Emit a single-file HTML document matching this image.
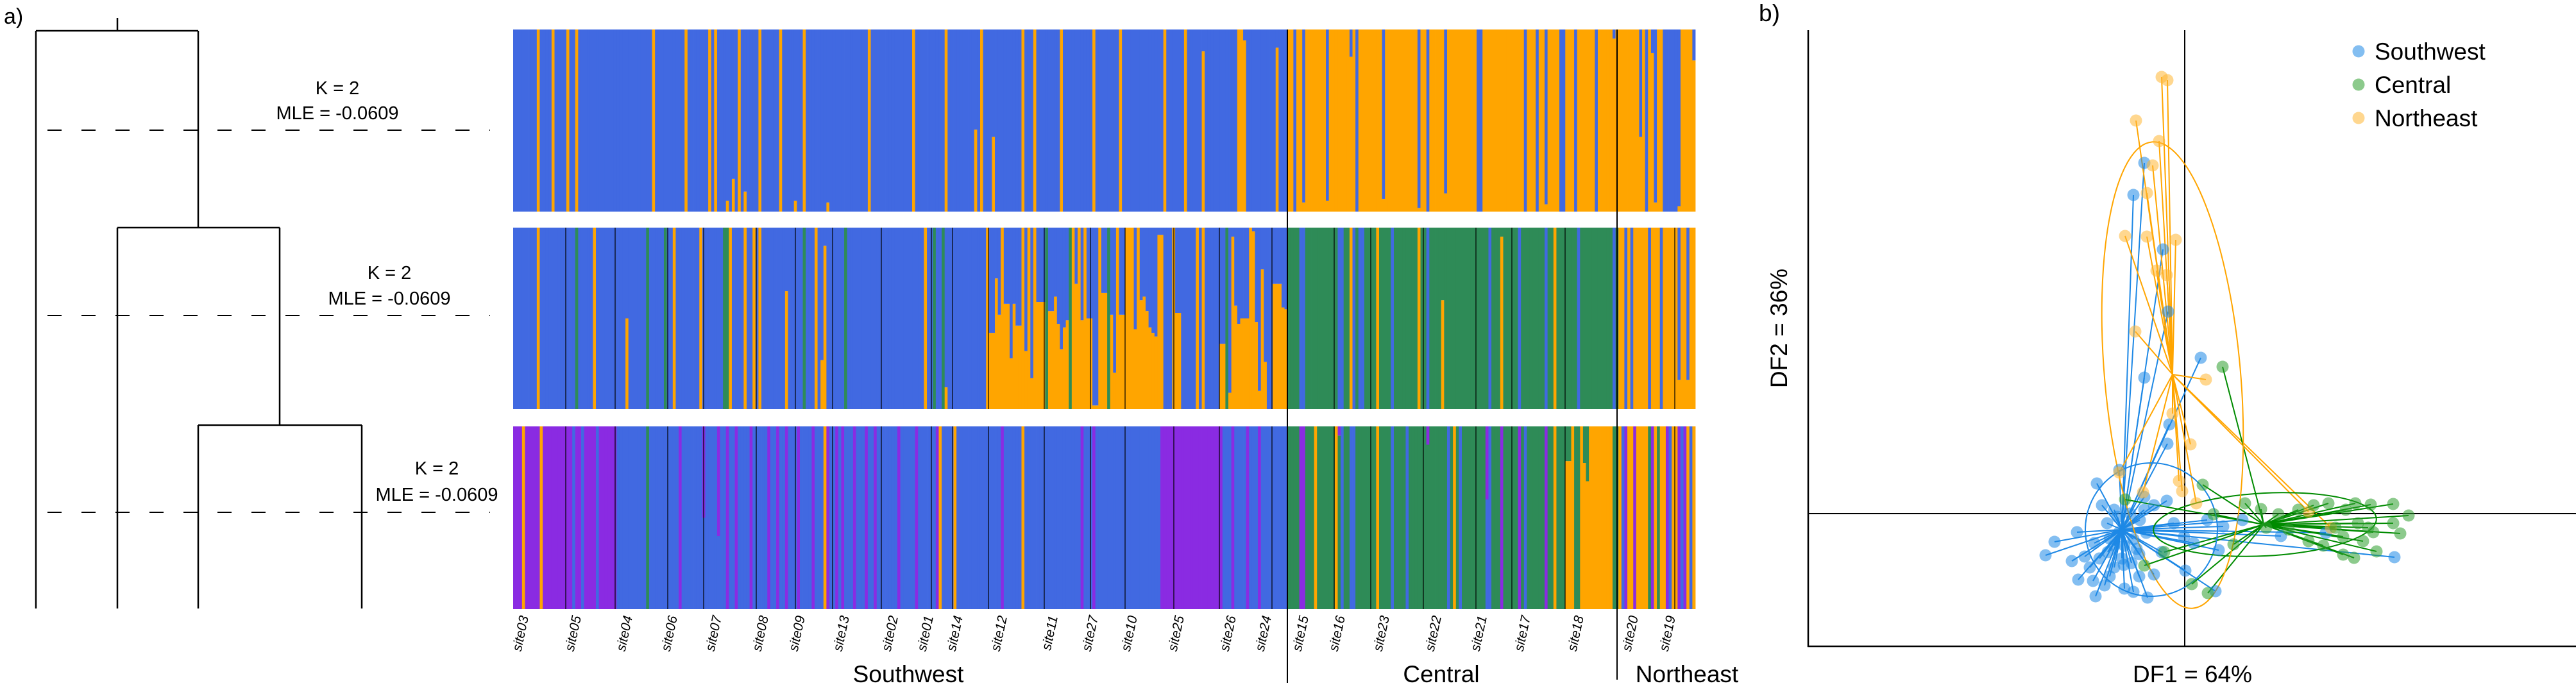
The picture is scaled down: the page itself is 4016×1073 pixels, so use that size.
<!DOCTYPE html>
<html><head><meta charset="utf-8"><style>
html,body{margin:0;padding:0;background:#fff}
svg{display:block}
text{font-family:"Liberation Sans",Arial,sans-serif;fill:#000}
</style></head><body>
<svg id="fig" xmlns="http://www.w3.org/2000/svg" width="4016" height="1073" viewBox="0 0 4016 1073">
<rect width="4016" height="1073" fill="#fff"/>
<g id="dendro" stroke="#000" stroke-width="2.5" fill="none">
  <line x1="183" y1="28" x2="183" y2="48"/>
  <line x1="56" y1="48" x2="309" y2="48"/>
  <line x1="56" y1="48" x2="56" y2="949"/>
  <line x1="309" y1="48" x2="309" y2="355"/>
  <line x1="183" y1="355" x2="436" y2="355"/>
  <line x1="183" y1="355" x2="183" y2="949"/>
  <line x1="436" y1="355" x2="436" y2="663"/>
  <line x1="309" y1="663" x2="564" y2="663"/>
  <line x1="309" y1="663" x2="309" y2="949"/>
  <line x1="564" y1="663" x2="564" y2="949"/>
  <g stroke-width="2" stroke-dasharray="22 31">
    <line x1="74" y1="203" x2="764" y2="203"/>
    <line x1="74" y1="492" x2="764" y2="492"/>
    <line x1="74" y1="799" x2="764" y2="799"/>
  </g>
</g>
<text x="6" y="37" font-size="34">a)</text>
<g font-size="29" text-anchor="middle">
  <text x="526" y="147">K = 2</text>
  <text x="526" y="186">MLE = -0.0609</text>
  <text x="607" y="435">K = 2</text>
  <text x="607" y="475">MLE = -0.0609</text>
  <text x="681" y="740">K = 2</text>
  <text x="681" y="781">MLE = -0.0609</text>
</g>
<g id="bars"></g>
<g id="sitelabels"></g>
<g id="dapc"></g>
</svg>
<script>
// ===== STRUCTURE bar plot data =====
const N = 400;
const siteNames = ["site03","site05","site04","site06","site07","site08","site09","site13","site02","site01","site14","site12","site11","site27","site10","site25","site26","site24","site15","site16","site23","site22","site21","site17","site18","site20","site19"];
const regionNames = ["Southwest","Central","Northeast"];
// panel 1 (K=2): base runs [start,end,orangeFraction] and stripes [index, orangeFraction]
const p1Base = [[0,262,0],[262,400,1]];
const p1Stripes = [[8,1],[13,1],[18,1],[21,1],[47,1],[58,1],[66,1],[68,1],[72,0.06],[74,0.18],[76,1],[78,0.11],[83,1],[90,1],[95,0.06],[98,1],[106,0.05],[120,1],[135,1],[146,1],[156,0.45],[158,1],[162,0.41],[172,1],[176,1],[185,1],[196,1],[205,1],[220,1],[227,1],[233,0.88],[245,1],[246,1],[247,0.94],[258,0.9],
 [264,0],[267,0.05],[275,0.06],[283,0.85],[285,0],[294,0.07],[306,0.02],[309,0],[315,0.1],[326,0],[327,0],[342,0],[346,0],[349,0.04],[354,0],[355,0],[359,0],[366,0],[372,0.95],
 [381,0.41],[383,0],[385,0.87],[386,0.05],[389,0],[390,0],[391,0],[392,0],[393,0],[394,0.03],[399,0.83]];
// panel 2 (K=3): base runs [start,end,orange,green,blue,purple]
const p2Base = [[0,161,0,0,1,0],[262,374,0,1,0,0],[374,400,1,0,0,0]];
// orange fraction for individuals 161..261 (-1 = fully green)
const p2Mix = [.42,.42,.72,.52,1,.58,.58,.28,.58,.46,.46,1,.32,1,.17,1,.59,.59,.59,-1,.54,.54,.62,.47,.33,.45,.49,-1,1,.69,1,.49,1,.5,.5,.02,.02,1,.64,.64,-1,.52,.2,1,.52,.52,1,1,1,.44,1,.6,.62,.54,.45,.42,.4,.96,.96,0,0,0,1,.53,.53,0,0,0,0,0,1,0,1,0,0,0,0,0,.36,.36,-1,.09,.95,.57,.47,.5,.5,.5,1,.98,.48,.1,.77,.26,0,0,.69,.69,.69,.56,.55];
const p2Stripes = [[21,0,1,0,0],[45,0,1,0,0],[51,0,1,0,0],[71,0,1,0,0],[72,0,1,0,0],[98,0,1,0,0],[112,0,1,0,0],[142,0,1,0,0],[145,0,1,0,0],
 [8,1,0,0,0],[27,1,0,0,0],[38,.5,0,.5,0],[54,1,0,0,0],[63,1,0,0,0],[73,1,0,0,0],[78,1,0,0,0],[81,1,0,0,0],[83,1,0,0,0],[92,.65,0,.35,0],[102,1,0,0,0],[104,.27,0,.73,0],[105,.9,0,.1,0],[139,1,0,0,0],[146,.12,0,.88,0],[160,1,0,0,0],
 [266,0,0,1,0],[267,0,0,1,0],[279,0,0,1,0],[280,0,0,1,0],[284,0,0,1,0],[286,0,0,1,0],[287,0,0,1,0],[297,0,0,1,0],[309,0,0,1,0],[330,0,0,1,0],[340,0,0,1,0],[349,0,0,1,0],[360,0,0,1,0],[372,0,0,1,0],
 [283,1,0,0,0],[292,1,0,0,0],[306,1,0,0,0],[314,.6,.4,0,0],[334,.95,.05,0,0],[352,1,0,0,0],
 [376,0,0,1,0],[378,0,0,1,0],[384,0,0,1,0],[388,0,0,1,0],[394,.16,0,.84,0],[397,.16,0,.84,0]];
// panel 3 (K=4)
const p3Base = [[0,35,0,0,0,1],[35,219,0,0,1,0],[219,240,0,0,0,1],[240,262,0,0,1,0],[262,356,0,1,0,0],[356,372,1,0,0,0],[372,374,0,1,0,0],[374,400,1,0,0,0]];
const p3Stripes = [[3,1,0,0,0],[9,1,0,0,0],[20,0,0,1,0],[23,0,0,1,0],[28,0,0,1,0],[45,0,1,0,0],[56,0,0,0,1],[64,0,0,.5,.5],[69,0,0,.4,.6],[72,0,0,0,1],[75,0,0,0,1],[80,0,0,0,1],[86,0,0,0,1],[89,0,0,0,1],[92,0,0,0,1],[96,0,0,0,1],[101,0,0,0,1],[105,1,0,0,0],[106,0,0,0,1],[109,0,0,0,1],[111,0,0,0,1],[115,0,0,0,1],[119,0,0,0,1],[122,0,0,0,1],[130,0,0,0,1],[136,0,0,0,1],[143,0,0,0,1],[144,1,0,0,0],[149,1,0,0,0],[165,0,0,0,1],[172,1,0,0,0],[192,0,0,0,1],[196,0,0,0,1],[243,0,0,0,1],[248,0,0,0,1],[252,0,0,0,1],
 [266,0,0,0,1],[267,0,0,0,1],[334,0,0,0,1],[340,0,0,0,1],[349,0,0,0,1],[279,0,.95,0,.05],[309,0,.9,0,.1],[329,0,0,.6,.4],
 [280,0,0,1,0],[283,0,0,1,0],[284,0,0,1,0],[297,0,0,1,0],[302,0,0,1,0],[316,0,0,1,0],[320,0,0,1,0],[330,0,0,1,0],[342,0,0,1,0],
 [271,1,0,0,0],[278,1,0,0,0],[292,1,0,0,0],[318,1,0,0,0],[352,1,0,0,0],
 [356,.81,.19,0,0],[357,.81,.19,0,0],[359,0,1,0,0],[360,0,1,0,0],[362,.8,.2,0,0],[363,.7,.3,0,0],
 [376,0,0,0,1],[379,0,0,0,1],[385,0,0,0,1],[390,0,0,0,1],[394,0,0,0,1],[396,0,0,0,1],[375,0,0,1,0],[391,0,0,1,0],[395,0,0,1,0],[398,0,0,1,0],[384,0,1,0,0],[387,0,1,0,0]];

// ===== DAPC scatter data (DF1, DF2 scores) =====
const groups = ["Southwest","Central","Northeast"];
const swDF1 = [-0.63,-0.80,-0.34,-0.26,-0.63,0.25,-0.24,-0.27,-1.02,-1.37,-2.03,-2.17,-1.76,-1.66,-1.39,-0.58,-0.80,0.48,0.01,3.27,0.53,-1.68,-1.56,-1.43,-1.25,-0.94,-0.71,-0.48,-1.10,-1.21,-1.29,-1.41,-1.33,-1.10,-0.94,-0.63,-0.48,-0.28,-0.17,-0.01,-0.71,-1.02,-1.17,-0.83,-0.36,0.14,-0.63,-1.17,-0.98,-1.48,-0.9,-0.8,-1.1,-0.7,-1.2,-0.95,-0.6,-0.85,-1.05,-0.75,0.35,0.6,0.9,1.5,2.2];
const swDF2 = [5.47,4.97,4.12,3.15,2.12,2.43,1.39,1.09,0.68,0.47,-0.44,-0.65,-0.74,-1.03,-1.29,-1.31,-1.22,-1.21,-0.89,-0.68,-0.57,-0.29,-0.67,-1.05,-1.12,-1.17,-0.98,-0.95,0.06,-0.15,0.13,-0.46,-0.70,-0.84,-0.50,0.06,0.13,0.20,-0.15,-0.36,-0.63,-0.29,-0.39,-0.77,-0.60,-0.46,0.26,-0.98,-0.70,-0.84,-0.2,-0.4,-0.5,-0.1,-0.6,-0.8,-0.3,0.0,-0.05,-0.55,-0.1,-0.2,-0.1,-0.35,-0.3];
const ceDF1 = [0.59,0.28,-0.93,0.94,1.19,1.46,1.77,2.01,2.24,2.51,2.66,2.90,3.25,3.49,3.25,3.36,2.99,2.47,2.64,2.78,2.94,2.70,2.47,2.16,1.93,1.62,1.27,0.76,0.11,0.36,-0.63,-0.32,0.45,2.35,2.86];
const ceDF2 = [2.29,0.45,0.22,0.16,0.07,-0.01,0.06,0.13,0.16,0.06,0.16,0.14,0.15,-0.03,-0.15,-0.31,-0.59,-0.64,-0.69,-0.43,-0.29,-0.15,-0.36,-0.50,-0.43,-0.25,-0.22,-0.48,-1.10,-1.24,-0.81,-0.60,-0.01,-0.22,-0.22];
const neDF1 = [-0.36,-0.27,-0.76,-0.40,-0.50,-0.59,-0.93,-0.59,-0.14,-0.44,-0.28,-0.77,0.33,-0.19,0.09,-1.02,-0.09,-0.04,0.18,-0.65,2.28,1.93];
const neDF2 = [6.81,6.76,6.13,5.81,5.43,5.00,4.33,4.32,4.27,3.79,3.72,2.84,2.09,1.56,1.08,0.64,0.51,0.35,0.16,0.33,-0.22,0.03];
const centroidDF1 = [-0.98,1.23,-0.19];
const centroidDF2 = [-0.25,-0.17,2.17];
const ellipseCX = [-0.52,1.25,-0.19];
const ellipseCY = [-0.25,-0.17,2.16];
const ellipseRX = [1.03,1.74,1.06];
const ellipseRY = [1.04,0.49,3.65];
const ellipseAngle = [0,-3,-5];

const NS="http://www.w3.org/2000/svg";
function mk(tag, attrs, parent){const e=document.createElementNS(NS,tag);for(const k in attrs)e.setAttribute(k,attrs[k]);parent.appendChild(e);return e;}

// ---- bars ----
const barsG=document.getElementById('bars');
const X0=800, X1=2643, BW=(X1-X0)/N;
const panelTop=[46,355,665], panelBot=[330,638,950];
const cols=["#FFA500","#2E8B57","#4169E1","#8A2BE2"]; // orange, green, blue, purple
function xOf(i){return X0+i*BW;}
function buildP1(){const a=new Array(N).fill(null);p1Base.forEach(r=>{for(let i=r[0];i<r[1];i++)a[i]=[r[2],0,1-r[2],0];});p1Stripes.forEach(s=>{a[s[0]]=[s[1],0,1-s[1],0];});return a;}
function buildP2(){const a=new Array(N).fill(null);p2Base.forEach(r=>{for(let i=r[0];i<r[1];i++)a[i]=r.slice(2);});p2Mix.forEach((v,k)=>{a[161+k]=v<0?[0,1,0,0]:[v,0,1-v,0];});p2Stripes.forEach(s=>{a[s[0]]=s.slice(1);});return a;}
function buildP3(){const a=new Array(N).fill(null);p3Base.forEach(r=>{for(let i=r[0];i<r[1];i++)a[i]=r.slice(2);});p3Stripes.forEach(s=>{a[s[0]]=s.slice(1);});return a;}
const panels=[buildP1(),buildP2(),buildP3()];
panels.forEach((arr,p)=>{
  const g=mk('g',{},barsG);
  
  
  const top=panelTop[p], h=panelBot[p]-panelTop[p];
  arr.forEach((c,i)=>{
    if(!c) c=[0,0,1,0];
    let y=panelBot[p];
    c.forEach((f,k)=>{
      if(f<=0)return;
      const hh=f*h;
      const r=mk('rect',{x:xOf(i).toFixed(2),y:(y-hh).toFixed(2),width:(BW+0.4).toFixed(2),height:hh.toFixed(2),fill:cols[k]},g);
      
      
      y-=hh;
    });
  });
});
// site boundary lines (panels 2 and 3)
const bnd=[882,959,1041,1097,1179,1240,1298,1374,1452,1485,1541,1628,1700,1754,1830,1901,1983,2080,2137,2219,2301,2357,2440,2611];
const bg=mk('g',{stroke:'#000','stroke-width':1.2},barsG);


bnd.forEach(x=>{[1,2].forEach(p=>{mk('line',{x1:x,y1:panelTop[p],x2:x,y2:panelBot[p]},bg);});});
// region dividers
[[2007,46,1065],[2521,46,1060]].forEach(d=>{
  const l=mk('line',{x1:d[0],y1:d[1],x2:d[0],y2:d[2],stroke:'#000','stroke-width':2},barsG);
  
  
});
// site labels
const siteX=[816,898,978,1048,1117,1190,1247,1316,1392,1447,1493,1562,1641,1704,1765,1838,1919,1974,2032,2089,2158,2239,2310,2378,2461,2546,2604];
const sl=document.getElementById('sitelabels');
siteNames.forEach((n,k)=>{
  const t=mk('text',{x:0,y:0,'font-size':21,'font-style':'italic','text-anchor':'end',transform:`translate(${siteX[k]+8},962) rotate(-78)`},sl);
  t.textContent=n;
  
  
});
const regX=[1416,2247,2630];
regionNames.forEach((n,k)=>{
  const t=mk('text',{x:regX[k],y:1064,'font-size':37,'text-anchor':'middle'},sl);
  t.textContent=n;
  
  
});

// ---- DAPC scatter ----
const dg=document.getElementById('dapc');
const OX=3406, OY=801, S=100;
function sx(v){return OX+v*S;}
function sy(v){return OY-v*S;}
const gcol=["#1E88E5","#008B00","#FFA500"];
const dcol=["#1E88E5","#2E9E2E","#FFB733"];
const d1=[swDF1,ceDF1,neDF1], d2=[swDF2,ceDF2,neDF2];
const defs=mk('defs',{},dg);
const cp=mk('clipPath',{id:'plotclip'},defs);
mk('rect',{x:2820,y:47,width:1196,height:961},cp);
const pg=mk('g',{'clip-path':'url(#plotclip)'},dg);
// axes lines
const ax=mk('g',{stroke:'#000','stroke-width':2.5,fill:'none'},dg);


mk('line',{x1:2819,y1:47,x2:2819,y2:1009},ax);
mk('line',{x1:2818,y1:1008,x2:4016,y2:1008},ax);
const zl=mk('g',{stroke:'#000','stroke-width':2},pg);


mk('line',{x1:sx(0),y1:47,x2:sx(0),y2:1008},zl);
mk('line',{x1:2819,y1:sy(0),x2:4016,y2:sy(0)},zl);
// stars
[0,2,1].forEach(gi=>{
  const g=mk('g',{stroke:gcol[gi],'stroke-width':2},pg);
  
  
  d1[gi].forEach((v,k)=>{mk('line',{x1:sx(centroidDF1[gi]),y1:sy(centroidDF2[gi]),x2:sx(v),y2:sy(d2[gi][k])},g);});
});
// ellipses
[0,1,2].forEach(gi=>{
  const e=mk('ellipse',{cx:sx(ellipseCX[gi]),cy:sy(ellipseCY[gi]),rx:ellipseRX[gi]*S,ry:ellipseRY[gi]*S,fill:'none',stroke:gcol[gi],'stroke-width':2,transform:`rotate(${ellipseAngle[gi]} ${sx(ellipseCX[gi])} ${sy(ellipseCY[gi])})`},pg);
  
  
});
// points
[0,2,1].forEach(gi=>{
  const g=mk('g',{fill:dcol[gi],'fill-opacity':0.55},pg);
  
  
  d1[gi].forEach((v,k)=>{
    const c=mk('circle',{cx:sx(v),cy:sy(d2[gi][k]),r:9.5},g);
    
    
  });
});
// legend
const lg=mk('g',{},dg);


groups.forEach((n,k)=>{
  const y=80+k*52;
  const c=mk('circle',{cx:3677,cy:y,r:9.5,fill:dcol[k],'fill-opacity':0.55},lg);
  
  
  const t=mk('text',{x:3702,y:y+13,'font-size':37},lg);
  t.textContent=n;
  
  
});
const bl=mk('text',{x:2742,y:33,'font-size':37},dg);
bl.textContent='b)';


const xt=mk('text',{x:3418,y:1064,'font-size':37,'text-anchor':'middle'},dg);
xt.textContent='DF1 = 64%';


const yt=mk('text',{x:0,y:0,'font-size':37,'text-anchor':'middle',transform:'translate(2786,512) rotate(-90)'},dg);
yt.textContent='DF2 = 36%';


</script>
</body></html>
